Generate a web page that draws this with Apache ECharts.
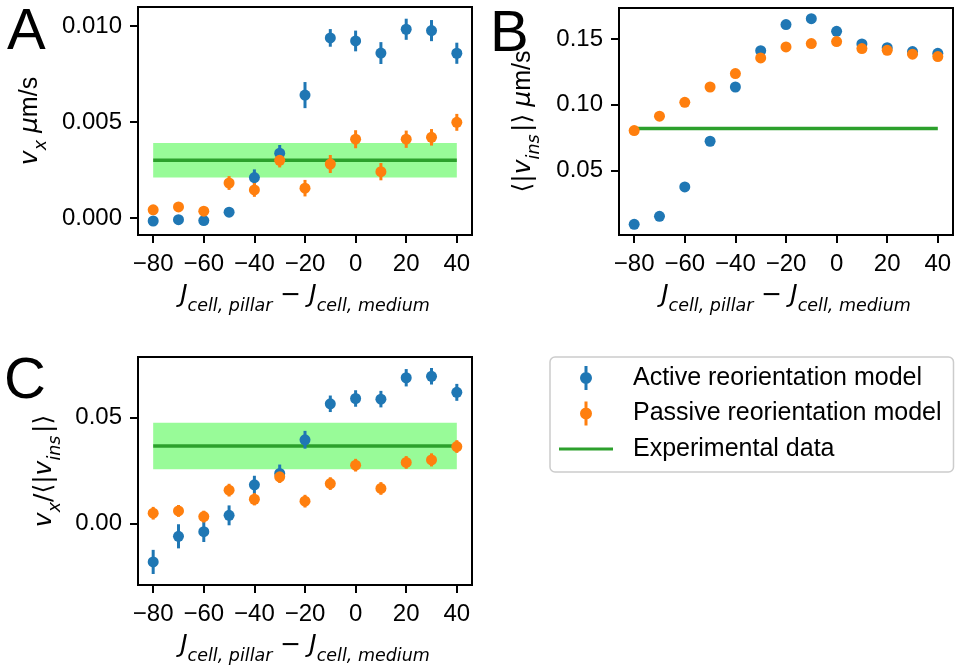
<!DOCTYPE html>
<html>
<head>
<meta charset="utf-8">
<script src="https://cdn.jsdelivr.net/npm/echarts@6/dist/echarts.min.js"></script>
<style>
  html, body { margin: 0; padding: 0; background: #fff; }
  #chart { width: 959px; height: 666px; }
</style>
</head>
<body>
<div id="chart"></div>
<script>
// J_cell,pillar - J_cell,medium
const J = [-80, -70, -60, -50, -40, -30, -20, -10, 0, 10, 20, 30, 40]

// panel A: v_x (um/s)
const A_ACTIVE = [-0.00016, -0.00009, -0.00014, 0.0003, 0.0021, 0.00337, 0.0064, 0.00938, 0.00922, 0.00859, 0.00983, 0.00976, 0.00858]
const A_ACTIVE_ERR = [0.0001, 0.0001, 0.0001, 0.00023, 0.00043, 0.00043, 0.00068, 0.00046, 0.00054, 0.00057, 0.00055, 0.00055, 0.00055]
const A_PASSIVE = [0.00042, 0.00057, 0.00035, 0.00182, 0.00146, 0.003, 0.00155, 0.00281, 0.0041, 0.00241, 0.0041, 0.0042, 0.00498]
const A_PASSIVE_ERR = [0.0001, 0.00015, 0.00012, 0.00036, 0.00036, 0.00037, 0.00043, 0.00047, 0.00047, 0.00045, 0.00045, 0.00043, 0.00044]

// panel B: <|v_ins|> (um/s)
const B_ACTIVE = [0.0092, 0.0153, 0.0376, 0.0723, 0.1135, 0.1411, 0.1609, 0.1654, 0.1558, 0.1462, 0.1434, 0.1404, 0.1391]
const B_PASSIVE = [0.0804, 0.0913, 0.1019, 0.1135, 0.1237, 0.1356, 0.1439, 0.1465, 0.148, 0.1427, 0.1414, 0.1384, 0.1366]

// panel C: v_x / <|v_ins|>
const C_ACTIVE = [-0.0181, -0.006, -0.0038, 0.0039, 0.0183, 0.0237, 0.0396, 0.0566, 0.0591, 0.0588, 0.0689, 0.0696, 0.062]
const C_ACTIVE_ERR = [0.0057, 0.0057, 0.0049, 0.0047, 0.0043, 0.0042, 0.0042, 0.0039, 0.0039, 0.0039, 0.0041, 0.0039, 0.004]
const C_PASSIVE = [0.0049, 0.006, 0.0033, 0.0158, 0.0115, 0.0221, 0.0106, 0.0189, 0.0276, 0.0166, 0.0289, 0.0301, 0.0364]
const C_PASSIVE_ERR = [0.003, 0.0028, 0.0028, 0.003, 0.0029, 0.0029, 0.003, 0.003, 0.003, 0.003, 0.003, 0.0031, 0.003]

// experimental mean and spread, per panel A, B, C
const EXP_MEAN = [0.003, 0.0819, 0.0367]
const EXP_ERR = [0.0009, 0, 0.011]

const X_TICKS = [-80, -60, -40, -20, 0, 20, 40]
const Y_TICKS_A = [0, 0.005, 0.01]
const Y_TICKS_B = [0.05, 0.1, 0.15]
const Y_TICKS_C = [0, 0.05]

const BLUE = '#1f77b4'
const ORANGE = '#ff7f0e'
const GREEN = '#2ca02c'
const BAND = '#98fb98'
const NAMES = ['Active reorientation model', 'Passive reorientation model', 'Experimental data']

const chart = echarts.init(document.getElementById('chart'), null, { renderer: 'canvas' })

const minus = (s) => s.replace('-', '\u2212')

const rich = {
  i: { fontFamily: 'DejaVu Sans', fontStyle: 'italic', fontSize: 25, color: '#000', padding: [0, 0, 7, 0], verticalAlign: 'bottom' },
  s: { fontFamily: 'DejaVu Sans', fontStyle: 'italic', fontSize: 17.5, color: '#000', verticalAlign: 'bottom' },
  r: { fontFamily: 'DejaVu Sans', fontSize: 25, color: '#000', padding: [0, 0, 7, 0], verticalAlign: 'bottom' },
  t: { fontFamily: 'Liberation Sans', fontSize: 25, color: '#000', padding: [0, 0, 7, 0], verticalAlign: 'bottom' },
}

const X_NAME = '{i|J}{s|cell, pillar}{r| \u2212 }{i|J}{s|cell, medium}'

function xAxisFor(gridIndex) {
  return {
    type: 'value', gridIndex, min: -86, max: 46,
    name: X_NAME, nameLocation: 'middle', nameGap: 48,
    nameTextStyle: { rich },
    axisLine: { show: false, onZero: false },
    splitLine: { show: false },
    axisTick: { show: true, customValues: X_TICKS, length: 8, lineStyle: { color: '#000', width: 2 } },
    axisLabel: {
      customValues: X_TICKS, margin: 17, color: '#000', fontSize: 24, fontFamily: 'Liberation Sans',
      formatter: (v) => minus(String(v)),
    },
  }
}

function yAxisFor(gridIndex, min, max, ticks, digits, name, gap) {
  return {
    type: 'value', gridIndex, min, max,
    name, nameLocation: 'middle', nameGap: gap, nameRotate: 90,
    nameTextStyle: { rich },
    axisLine: { show: false, onZero: false },
    splitLine: { show: false },
    axisTick: { show: true, customValues: ticks, length: 8, lineStyle: { color: '#000', width: 2 } },
    axisLabel: {
      customValues: ticks, margin: 16, color: '#000', fontSize: 24, fontFamily: 'Liberation Sans',
      formatter: (v) => Number(v).toFixed(digits),
    },
  }
}

function errSeries(name, idx, vals, errs, color) {
  return {
    name, type: 'custom', xAxisIndex: idx, yAxisIndex: idx, z: 3,
    data: J.map((j, i) => [j, vals[i], errs[i]]),
    renderItem: (params, api) => {
      const x = api.value(0), y = api.value(1), e = api.value(2)
      const p1 = api.coord([x, y - e])
      const p2 = api.coord([x, y + e])
      return {
        type: 'line',
        shape: { x1: p1[0], y1: p1[1], x2: p2[0], y2: p2[1] },
        style: { stroke: color, lineWidth: 3 },
      }
    },
  }
}

function dotSeries(name, idx, vals, color) {
  return {
    name, type: 'scatter', xAxisIndex: idx, yAxisIndex: idx, z: 3,
    symbol: 'circle', symbolSize: 11,
    itemStyle: { color, opacity: 1 },
    data: J.map((j, i) => [j, vals[i]]),
  }
}

function expSeries(idx) {
  const m = EXP_MEAN[idx], e = EXP_ERR[idx]
  const s = {
    name: NAMES[2], type: 'line', xAxisIndex: idx, yAxisIndex: idx, z: 2,
    symbol: 'none', color: GREEN,
    lineStyle: { color: GREEN, width: 3.5 },
    data: [[J[0], m], [J[J.length - 1], m]],
  }
  if (e > 0) {
    s.markArea = {
      silent: true,
      itemStyle: { color: BAND, opacity: 1 },
      data: [[{ coord: [J[0], m - e] }, { coord: [J[J.length - 1], m + e] }]],
    }
  }
  return s
}

const series = [
  expSeries(0),
  errSeries('errA1', 0, A_ACTIVE, A_ACTIVE_ERR, BLUE),
  dotSeries(NAMES[0], 0, A_ACTIVE, BLUE),
  errSeries('errA2', 0, A_PASSIVE, A_PASSIVE_ERR, ORANGE),
  dotSeries(NAMES[1], 0, A_PASSIVE, ORANGE),

  expSeries(1),
  dotSeries(NAMES[0], 1, B_ACTIVE, BLUE),
  dotSeries(NAMES[1], 1, B_PASSIVE, ORANGE),

  expSeries(2),
  errSeries('errC1', 2, C_ACTIVE, C_ACTIVE_ERR, BLUE),
  dotSeries(NAMES[0], 2, C_ACTIVE, BLUE),
  errSeries('errC2', 2, C_PASSIVE, C_PASSIVE_ERR, ORANGE),
  dotSeries(NAMES[1], 2, C_PASSIVE, ORANGE),
]

// errorbar-style legend icon and plain line icon, both in a 69x26 box
const ERR_ICON = 'path://M0 0L0 0M69 26L69 26M25.5 1L28.5 1L28.5 25L25.5 25ZM21 13A6 6 0 1 1 33 13A6 6 0 1 1 21 13Z'
const LINE_ICON = 'path://M0 0L0 0M69 26L69 26M0 11.5L54 11.5L54 14.5L0 14.5Z'

const panelLetter = (text, x, y) => ({
  type: 'text', left: x, top: y,
  style: { text, fontSize: 58, fontFamily: 'Liberation Sans', fill: '#000' },
})

const option = {
  animation: false,
  backgroundColor: '#fff',
  grid: [
    { left: 138, top: 7, width: 334, height: 228, show: true, borderColor: '#000', borderWidth: 2, backgroundColor: 'transparent' },
    { left: 619, top: 8, width: 334, height: 227, show: true, borderColor: '#000', borderWidth: 2, backgroundColor: 'transparent' },
    { left: 138, top: 357, width: 334, height: 228, show: true, borderColor: '#000', borderWidth: 2, backgroundColor: 'transparent' },
  ],
  xAxis: [xAxisFor(0), xAxisFor(1), xAxisFor(2)],
  yAxis: [
    yAxisFor(0, -0.00089, 0.01099, Y_TICKS_A, 3, '{i|v}{s|x}{t| }{i|\u03bc}{t|m/s}', 88),
    yAxisFor(1, 0.0011, 0.1735, Y_TICKS_B, 2, '{r|\u27e8|}{i|v}{s|ins}{r|\u200a|\u27e9}{t| }{i|\u03bc}{t|m/s}', 76),
    yAxisFor(2, -0.029, 0.0787, Y_TICKS_C, 2, '{i|v}{s|x}{r|/\u27e8|}{i|v}{s|ins}{r|\u200a|\u27e9}', 74),
  ],
  legend: {
    orient: 'vertical', left: 550, top: 357,
    padding: [8, 12, 10, 9], itemGap: 9.5,
    itemWidth: 69, itemHeight: 26,
    selectedMode: false,
    borderColor: '#cccccc', borderWidth: 1.5, borderRadius: 5, backgroundColor: '#fff',
    itemStyle: { borderWidth: 0 },
    textStyle: { fontSize: 25, fontFamily: 'Liberation Sans', color: '#000', lineHeight: 26 },
    data: [
      { name: NAMES[0], icon: ERR_ICON },
      { name: NAMES[1], icon: ERR_ICON },
      { name: NAMES[2], icon: LINE_ICON },
    ],
  },
  graphic: [
    panelLetter('A', 7, 4),
    panelLetter('B', 490, 6),
    panelLetter('C', 4, 353),
  ],
  series,
}

chart.setOption(option)
window.addEventListener('resize', () => chart.resize())
</script>
</body>
</html>
